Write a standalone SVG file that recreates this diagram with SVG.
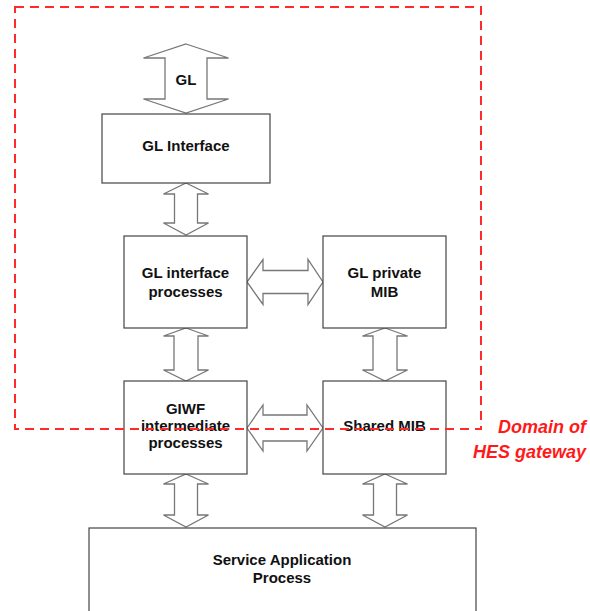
<svg xmlns="http://www.w3.org/2000/svg" width="590" height="611" viewBox="0 0 590 611">
<style>
.box{fill:#fff;stroke:#444;stroke-width:1.2}
.arr{fill:#fff;stroke:#777;stroke-width:1.3;stroke-linejoin:miter}
.t{font-family:"Liberation Sans",Arial,sans-serif;font-weight:bold;font-size:15px;fill:#111;text-anchor:middle}
.dom{fill:none;stroke:#ff2a2a;stroke-width:2;stroke-dasharray:9 6}
.lbl{font-family:"Liberation Sans",Arial,sans-serif;font-weight:bold;font-style:italic;font-size:18px;fill:#ff1a1a;text-anchor:end}
</style>
<rect width="590" height="611" fill="#fff"/>
<g id="connectors">
<polygon class="arr" points="186,44 228.5,58 207,58 207,99 228.5,99 186,113 143.5,99 165,99 165,58 143.5,58"/>
<polygon class="arr" points="186,183 208.5,194 197.5,194 197.5,223 208.5,223 186,235 163.5,223 174.5,223 174.5,194 163.5,194"/>
<polygon class="arr" points="186,328 208.5,336 198,336 198,370 208.5,370 186,381 163.5,370 174,370 174,336 163.5,336"/>
<polygon class="arr" points="385,328 407.5,336 397,336 397,370 407.5,370 385,381 362.5,370 373,370 373,336 362.5,336"/>
<polygon class="arr" points="186,474 208.5,484 197.5,484 197.5,515 208.5,515 186,527 163.5,515 174.5,515 174.5,484 163.5,484"/>
<polygon class="arr" points="385,474 407.5,484 396.5,484 396.5,515 407.5,515 385,527 362.5,515 373.5,515 373.5,484 362.5,484"/>
<polygon class="arr" points="247,282 263,259.5 263,270.5 308,270.5 308,259.5 323,282 308,304.5 308,293.5 263,293.5 263,304.5"/>
<polygon class="arr" points="247,428 263,405 263,415 307,415 307,405 323,428 307,451 307,441 263,441 263,451"/>
</g>
<g id="gl-label"><text class="t" x="186" y="85">GL</text></g>
<g id="gl-interface">
<rect class="box" x="102" y="114" width="168" height="69"/>
<text class="t" x="186" y="151">GL Interface</text>
</g>
<g id="gl-interface-processes">
<rect class="box" x="124" y="236" width="123" height="92"/>
<text class="t" x="185.5" y="278">GL interface</text>
<text class="t" x="185.5" y="297">processes</text>
</g>
<g id="gl-private-mib">
<rect class="box" x="323" y="236" width="123" height="92"/>
<text class="t" x="384.5" y="278">GL private</text>
<text class="t" x="384.5" y="297">MIB</text>
</g>
<g id="giwf">
<rect class="box" x="124" y="381" width="123" height="93"/>
<text class="t" x="185.5" y="414">GIWF</text>
<text class="t" x="185.5" y="431">intermediate</text>
<text class="t" x="185.5" y="448">processes</text>
</g>
<g id="shared-mib">
<rect class="box" x="323" y="381" width="123" height="93"/>
<text class="t" x="384.5" y="431">Shared MIB</text>
</g>
<g id="service-application">
<rect class="box" x="89" y="528" width="387" height="90"/>
<text class="t" x="282" y="565">Service Application</text>
<text class="t" x="282" y="583">Process</text>
</g>
<g id="domain">
<rect class="dom" x="15" y="7" width="466" height="422"/>
<text class="lbl" x="586" y="433">Domain of</text>
<text class="lbl" x="586" y="458">HES gateway</text>
</g>
</svg>
